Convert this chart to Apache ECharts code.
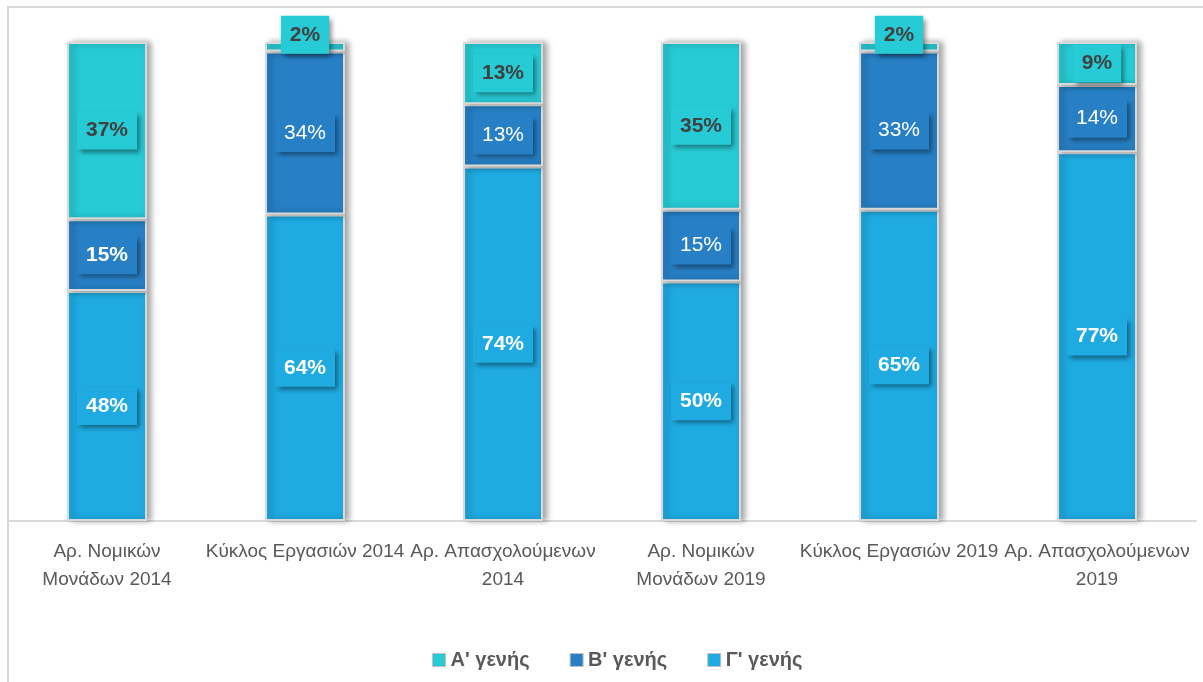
<!DOCTYPE html>
<html>
<head>
<meta charset="utf-8">
<script src="https://cdn.jsdelivr.net/npm/echarts@6/dist/echarts.min.js"></script>
<style>
    html, body { margin: 0; padding: 0; background: #fff; }
    #chart { width: 1203px; height: 682px; }
</style>
</head>
<body>
<div id="chart"></div>
<script>
var categories = [
    'Αρ. Νομικών\nΜονάδων 2014',
    'Κύκλος Εργασιών 2014',
    'Αρ. Απασχολούμενων\n2014',
    'Αρ. Νομικών\nΜονάδων 2019',
    'Κύκλος Εργασιών 2019',
    'Αρ. Απασχολούμενων\n2019'
];
var seriesNames = ["Α' γενής", "Β' γενής", "Γ' γενής"];
var genA = [37, 2, 13, 35, 2, 9];
var genB = [15, 34, 13, 15, 33, 14];
var genC = [48, 64, 74, 50, 65, 77];
var colors = ['#27CBD5', '#2780C6', '#1FABE2'];

var font = '"Liberation Sans", "Noto Sans", sans-serif';

function labelFor(color, textColor, boldIdx) {
    return {
        show: true,
        position: 'inside',
        formatter: '{c}%',
        fontFamily: font,
        fontSize: 21,
        color: textColor,
        fontWeight: boldIdx ? 'bold' : 'normal',
        backgroundColor: color,
        padding: [9, 9, 8, 9],
        shadowColor: 'rgba(0,0,0,0.45)',
        shadowBlur: 5,
        shadowOffsetX: 3,
        shadowOffsetY: 3
    };
}

function makeData(values, color, textColor, boldList) {
    return values.map(function (v, i) {
        var lbl = labelFor(color, textColor, boldList[i]);
        if (v < 5) {
            lbl.offset = [0, -12];
        }
        return { value: v, label: lbl };
    });
}

var barStyle = function (color) {
    return {
        color: color,
        borderColor: '#d9d9d9',
        borderWidth: 2,
        shadowColor: 'rgba(0,0,0,0.35)',
        shadowBlur: 6,
        shadowOffsetX: 4,
        shadowOffsetY: 0
    };
};

var chart = echarts.init(document.getElementById('chart'));
chart.setOption({
    animation: false,
    color: colors,
    grid: { left: 8, right: 7, top: 42, bottom: 161, containLabel: false },
    legend: {
        bottom: 7,
        left: 427,
        data: seriesNames,
        itemWidth: 13,
        itemHeight: 13,
        itemGap: 40,
        icon: 'rect',
        itemStyle: { borderColor: '#bfbfbf', borderWidth: 1 },
        textStyle: { fontFamily: font, fontSize: 20, fontWeight: 'bold', color: '#595959' }
    },
    xAxis: {
        type: 'category',
        data: categories,
        axisLine: { lineStyle: { color: '#d9d9d9', width: 2 } },
        axisTick: { show: false },
        axisLabel: {
            interval: 0,
            margin: 17,
            fontFamily: font,
            fontSize: 19,
            lineHeight: 28,
            color: '#595959'
        }
    },
    yAxis: {
        type: 'value',
        min: 0,
        max: 100,
        show: false,
        splitLine: { show: false }
    },
    graphic: [{
        type: 'polyline',
        shape: { points: [[8, 682], [8, 7], [1203, 7]] },
        style: { stroke: '#d9d9d9', lineWidth: 2, fill: null },
        silent: true
    }],
    series: [
        {
            name: seriesNames[2],
            type: 'bar',
            stack: 'total',
            barWidth: 80,
            itemStyle: barStyle(colors[2]),
            data: makeData(genC, colors[2], '#ffffff', [1, 1, 1, 1, 1, 1])
        },
        {
            name: seriesNames[1],
            type: 'bar',
            stack: 'total',
            barWidth: 80,
            itemStyle: barStyle(colors[1]),
            data: makeData(genB, colors[1], '#ffffff', [1, 0, 0, 0, 0, 0])
        },
        {
            name: seriesNames[0],
            type: 'bar',
            stack: 'total',
            barWidth: 80,
            itemStyle: barStyle(colors[0]),
            data: makeData(genA, colors[0], '#404040', [1, 1, 1, 1, 1, 1])
        }
    ]
});
</script>
</body>
</html>
